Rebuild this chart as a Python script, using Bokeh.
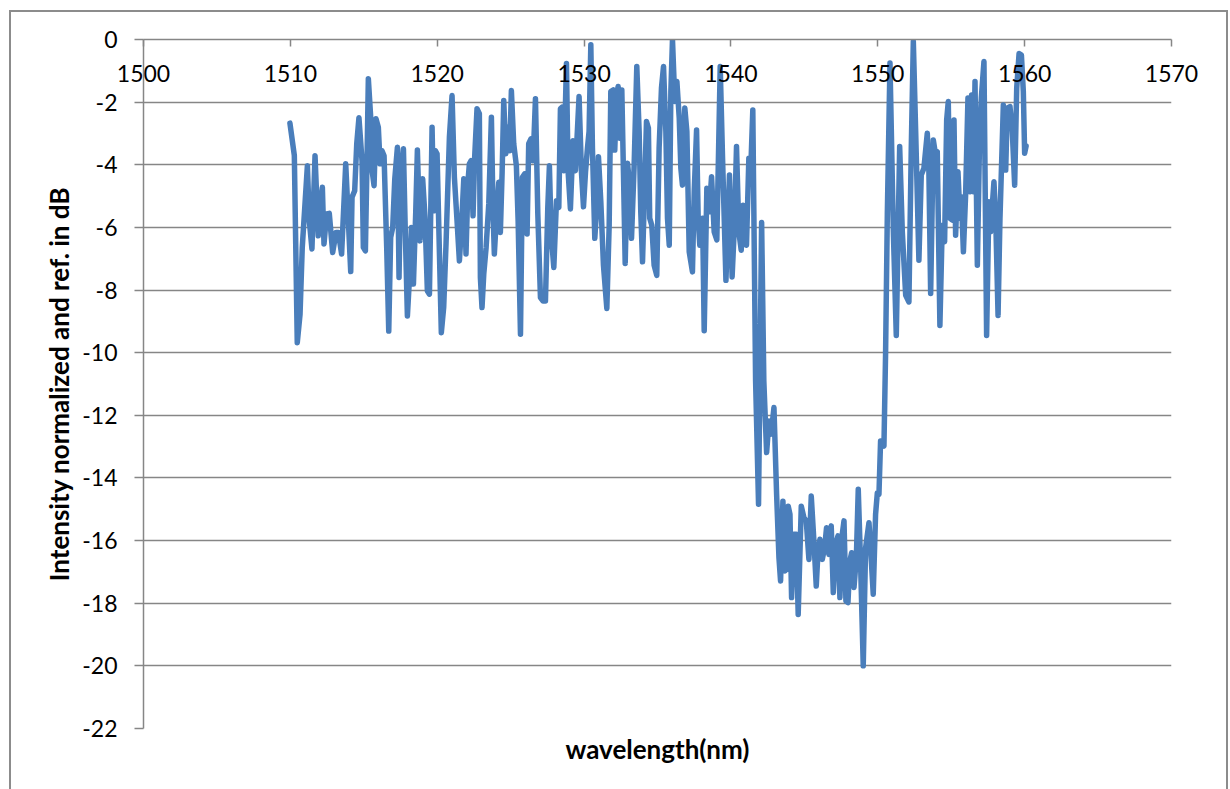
from bokeh.plotting import figure
from bokeh.models import Range1d, LinearAxis, FixedTicker, Title, ColumnDataSource
from bokeh.embed import file_html
from bokeh.resources import INLINE

# ---- data (wavelength in nm, intensity in dB) ----
wavelength_nm = [
    1509.97, 1510.27, 1510.47, 1510.66, 1510.81, 1511.16, 1511.29, 1511.47, 1511.68, 1511.90,
    1512.02, 1512.18, 1512.29, 1512.47, 1512.65, 1512.88, 1513.11, 1513.27, 1513.49, 1513.77,
    1513.95, 1514.11, 1514.20, 1514.38, 1514.52, 1514.67, 1514.88, 1514.97, 1515.11, 1515.20,
    1515.31, 1515.47, 1515.54, 1515.70, 1515.83, 1515.99, 1516.11, 1516.24, 1516.38, 1516.56,
    1516.70, 1516.83, 1516.97, 1517.11, 1517.29, 1517.40, 1517.51, 1517.70, 1517.83, 1517.97,
    1518.15, 1518.24, 1518.38, 1518.54, 1518.65, 1518.83, 1519.01, 1519.17, 1519.33, 1519.47,
    1519.65, 1519.76, 1519.87, 1519.99, 1520.28, 1520.44, 1520.60, 1520.83, 1521.01, 1521.17,
    1521.35, 1521.51, 1521.65, 1521.81, 1521.96, 1522.10, 1522.19, 1522.31, 1522.44, 1522.55,
    1522.71, 1522.87, 1522.94, 1523.05, 1523.17, 1523.33, 1523.51, 1523.69, 1523.80, 1523.89,
    1524.03, 1524.19, 1524.30, 1524.42, 1524.53, 1524.67, 1524.80, 1524.94, 1525.05, 1525.21,
    1525.39, 1525.51, 1525.67, 1525.80, 1525.96, 1526.12, 1526.23, 1526.39, 1526.53, 1526.69,
    1526.85, 1527.03, 1527.21, 1527.37, 1527.53, 1527.64, 1527.76, 1527.94, 1528.12, 1528.28,
    1528.39, 1528.50, 1528.62, 1528.80, 1528.91, 1529.07, 1529.25, 1529.41, 1529.66, 1529.82,
    1529.96, 1530.10, 1530.23, 1530.34, 1530.46, 1530.57, 1530.73, 1530.87, 1530.98, 1531.14,
    1531.32, 1531.55, 1531.71, 1531.82, 1531.98, 1532.09, 1532.21, 1532.32, 1532.43, 1532.57,
    1532.68, 1532.80, 1532.96, 1533.12, 1533.23, 1533.41, 1533.59, 1533.75, 1533.86, 1533.98,
    1534.09, 1534.25, 1534.38, 1534.47, 1534.61, 1534.77, 1534.95, 1535.11, 1535.27, 1535.41,
    1535.57, 1535.68, 1535.80, 1535.91, 1536.02, 1536.18, 1536.32, 1536.48, 1536.59, 1536.70,
    1536.86, 1537.00, 1537.16, 1537.27, 1537.38, 1537.50, 1537.66, 1537.77, 1537.88, 1538.07,
    1538.18, 1538.36, 1538.52, 1538.68, 1538.86, 1539.04, 1539.27, 1539.43, 1539.66, 1539.90,
    1540.08, 1540.24, 1540.38, 1540.54, 1540.70, 1540.83, 1540.92, 1541.06, 1541.22, 1541.33,
    1541.49, 1541.68, 1541.88, 1542.09, 1542.24, 1542.43, 1542.59, 1542.74, 1542.93, 1543.11,
    1543.27, 1543.38, 1543.54, 1543.68, 1543.83, 1543.90, 1544.02, 1544.13, 1544.29, 1544.45,
    1544.58, 1544.79, 1544.97, 1545.13, 1545.31, 1545.47, 1545.65, 1545.81, 1545.92, 1546.06,
    1546.22, 1546.38, 1546.51, 1546.67, 1546.83, 1546.97, 1547.13, 1547.29, 1547.42, 1547.58,
    1547.70, 1547.83, 1547.97, 1548.10, 1548.22, 1548.38, 1548.54, 1548.67, 1548.83, 1549.01,
    1549.17, 1549.40, 1549.56, 1549.69, 1549.85, 1549.97, 1550.08, 1550.19, 1550.42, 1550.53,
    1550.65, 1550.83, 1551.06, 1551.26, 1551.49, 1551.67, 1551.90, 1552.12, 1552.28, 1552.42,
    1552.58, 1552.80, 1552.96, 1553.14, 1553.37, 1553.48, 1553.60, 1553.78, 1553.94, 1554.05,
    1554.23, 1554.39, 1554.55, 1554.69, 1554.80, 1554.92, 1555.08, 1555.19, 1555.30, 1555.46,
    1555.60, 1555.69, 1555.83, 1555.98, 1556.14, 1556.28, 1556.39, 1556.51, 1556.62, 1556.78,
    1556.94, 1557.05, 1557.23, 1557.41, 1557.57, 1557.69, 1557.80, 1557.91, 1558.03, 1558.19,
    1558.32, 1558.55, 1558.71, 1558.82, 1559.00, 1559.16, 1559.32, 1559.46, 1559.62, 1559.78,
    1559.91, 1560.00, 1560.10,
]

intensity_db = [
    -2.67, -3.70, -9.68, -8.77, -6.64, -4.03, -5.79, -6.69, -3.71, -6.27,
    -5.36, -4.72, -6.53, -5.57, -5.55, -6.80, -6.16, -6.16, -6.85, -3.97,
    -5.79, -7.41, -5.04, -4.83, -3.33, -2.50, -3.87, -6.64, -6.75, -4.40,
    -1.25, -2.48, -4.08, -4.67, -2.53, -2.80, -3.97, -3.55, -3.71, -6.64,
    -9.31, -6.32, -6.00, -4.45, -3.44, -7.60, -4.45, -3.49, -6.21, -8.83,
    -7.28, -6.00, -7.81, -5.47, -3.53, -6.43, -4.45, -5.68, -8.03, -8.13,
    -2.80, -5.47, -3.55, -3.65, -9.36, -8.56, -6.53, -3.12, -1.79, -4.40,
    -5.79, -7.07, -6.00, -4.45, -6.85, -4.51, -3.97, -3.87, -5.63, -3.76,
    -2.21, -2.37, -7.60, -8.56, -7.49, -6.64, -5.25, -2.48, -5.47, -6.85,
    -5.68, -4.56, -6.16, -4.24, -1.95, -3.65, -2.80, -3.55, -1.63, -3.33,
    -4.03, -5.79, -9.41, -4.40, -4.29, -6.21, -3.33, -3.17, -3.87, -1.89,
    -5.57, -8.24, -8.35, -8.35, -5.36, -4.03, -6.21, -7.28, -5.15, -5.36,
    -2.21, -2.16, -4.19, -0.77, -4.19, -5.41, -3.23, -4.19, -1.82, -4.22,
    -5.34, -4.22, -3.47, -2.94, -0.17, -3.47, -6.35, -5.29, -3.74, -5.18,
    -7.21, -8.59, -5.93, -1.66, -1.61, -3.53, -1.77, -1.50, -3.15, -1.61,
    -4.22, -7.15, -3.95, -4.75, -6.35, -4.01, -0.86, -2.94, -5.50, -7.10,
    -5.29, -2.62, -2.83, -5.71, -5.93, -7.21, -7.53, -3.47, -1.55, -0.86,
    -2.94, -5.71, -6.57, -1.66, 0.00, -1.98, -1.34, -2.51, -4.11, -4.65,
    -2.19, -2.94, -6.78, -7.10, -7.42, -4.86, -2.89, -5.71, -6.57, -5.71,
    -9.30, -4.75, -5.50, -4.38, -6.14, -6.40, -0.86, -3.79, -7.69, -4.33,
    -7.58, -5.93, -3.42, -6.14, -6.73, -5.29, -6.14, -6.57, -3.79, -4.43,
    -2.25, -10.90, -14.84, -5.84, -10.90, -13.19, -12.18, -12.60, -11.75, -14.52,
    -16.55, -17.29, -14.74, -16.97, -16.87, -14.90, -15.16, -17.82, -15.80, -15.80,
    -18.36, -14.90, -15.27, -15.37, -16.60, -14.58, -16.01, -17.45, -16.44, -15.96,
    -16.60, -16.23, -15.59, -16.44, -15.53, -17.66, -16.12, -15.85, -17.82, -15.80,
    -15.37, -17.93, -17.98, -16.65, -16.39, -17.50, -16.55, -14.36, -16.76, -20.00,
    -16.23, -15.43, -16.65, -17.71, -15.16, -14.47, -14.52, -12.82, -12.98, -10.05,
    -5.57, -0.75, -6.14, -9.45, -3.42, -6.14, -8.17, -8.38, -3.47, -0.06,
    -2.94, -7.05, -4.33, -4.11, -2.99, -4.22, -8.11, -3.21, -3.69, -3.58,
    -9.13, -5.93, -6.46, -2.57, -1.98, -5.71, -5.77, -2.57, -6.25, -4.22,
    -5.71, -5.02, -6.78, -4.97, -1.87, -4.86, -1.77, -4.86, -1.34, -7.21,
    -2.94, -1.87, -0.70, -9.45, -5.18, -6.14, -5.29, -4.54, -5.71, -8.81,
    -5.71, -2.09, -4.17, -2.19, -2.14, -2.94, -4.65, -1.55, -0.45, -0.50,
    -1.66, -3.63, -3.40,
]

x_ticks = [1500, 1510, 1520, 1530, 1540, 1550, 1560, 1570]
y_ticks = [0, -2, -4, -6, -8, -10, -12, -14, -16, -18, -20, -22]
x_title = "wavelength(nm)"
y_title = "Intensity normalized and ref. in dB"

GRAY = "#868686"
FONT = "Lato"

p = figure(width=1228, height=789, output_backend="svg", toolbar_location=None,
           x_range=Range1d(1500, 1570), y_range=Range1d(-22, 0),
           x_axis_location=None, y_axis_location="left",
           min_border_left=143, min_border_right=57, min_border_top=39, min_border_bottom=61)
p.outline_line_color = None
p.border_fill_color = None
p.background_fill_color = "white"
p.styles = {"box-shadow": "inset 9px 10px 0 0 white, inset 11px 12px 0 0 #8c8c8c, "
                          "inset -2px 0 0 0 #8c8c8c"}

# y axis
ya = p.yaxis[0]
ya.ticker = FixedTicker(ticks=y_ticks)
ya.major_label_overrides = {v: str(v) for v in y_ticks}
ya.major_tick_out = 9
ya.major_tick_in = 0
ya.minor_tick_line_color = None
ya.axis_line_color = GRAY
ya.axis_line_width = 1.5
ya.major_tick_line_color = GRAY
ya.major_tick_line_width = 1.5
ya.major_label_standoff = 17
ya.major_label_text_font = FONT
ya.major_label_text_font_size = "23px"
ya.major_label_text_color = "black"

p.ygrid.ticker = FixedTicker(ticks=y_ticks)
p.ygrid.grid_line_color = GRAY
p.ygrid.grid_line_width = 1.5
for g in p.xgrid:
    g.visible = False

# x axis at the top (crossing at 0), labels inside the plot area
xa = LinearAxis(ticker=FixedTicker(ticks=x_ticks),
                major_tick_in=7, major_tick_out=0,
                minor_tick_line_color=None,
                axis_line_color=GRAY, axis_line_width=1.5,
                major_tick_line_color=GRAY, major_tick_line_width=1.5,
                major_label_standoff=-42,
                major_label_text_font=FONT, major_label_text_font_size="23px",
                major_label_text_color="black")
p.add_layout(xa, "above")

# x title axis at the bottom (no ticks)
xb = LinearAxis(ticker=FixedTicker(ticks=[]),
                axis_line_color=None, major_tick_line_color=None,
                minor_tick_line_color=None, major_tick_out=0, major_tick_in=0,
                axis_label=x_title, axis_label_standoff=4,
                axis_label_text_font=FONT, axis_label_text_font_style="bold",
                axis_label_text_font_size="26px", axis_label_text_color="black")
p.add_layout(xb, "below")

# y title
p.add_layout(Title(text=y_title, align="center", offset=33, standoff=10,
                   text_font=FONT, text_font_style="bold", text_font_size="26px",
                   text_color="black"), "left")

src = ColumnDataSource(data=dict(x=wavelength_nm, y=intensity_db))
p.line("x", "y", source=src, line_color="#4A7EBB", line_width=5.5,
       line_join="round", line_cap="round")

open("out.html", "w").write(file_html(p, INLINE))
